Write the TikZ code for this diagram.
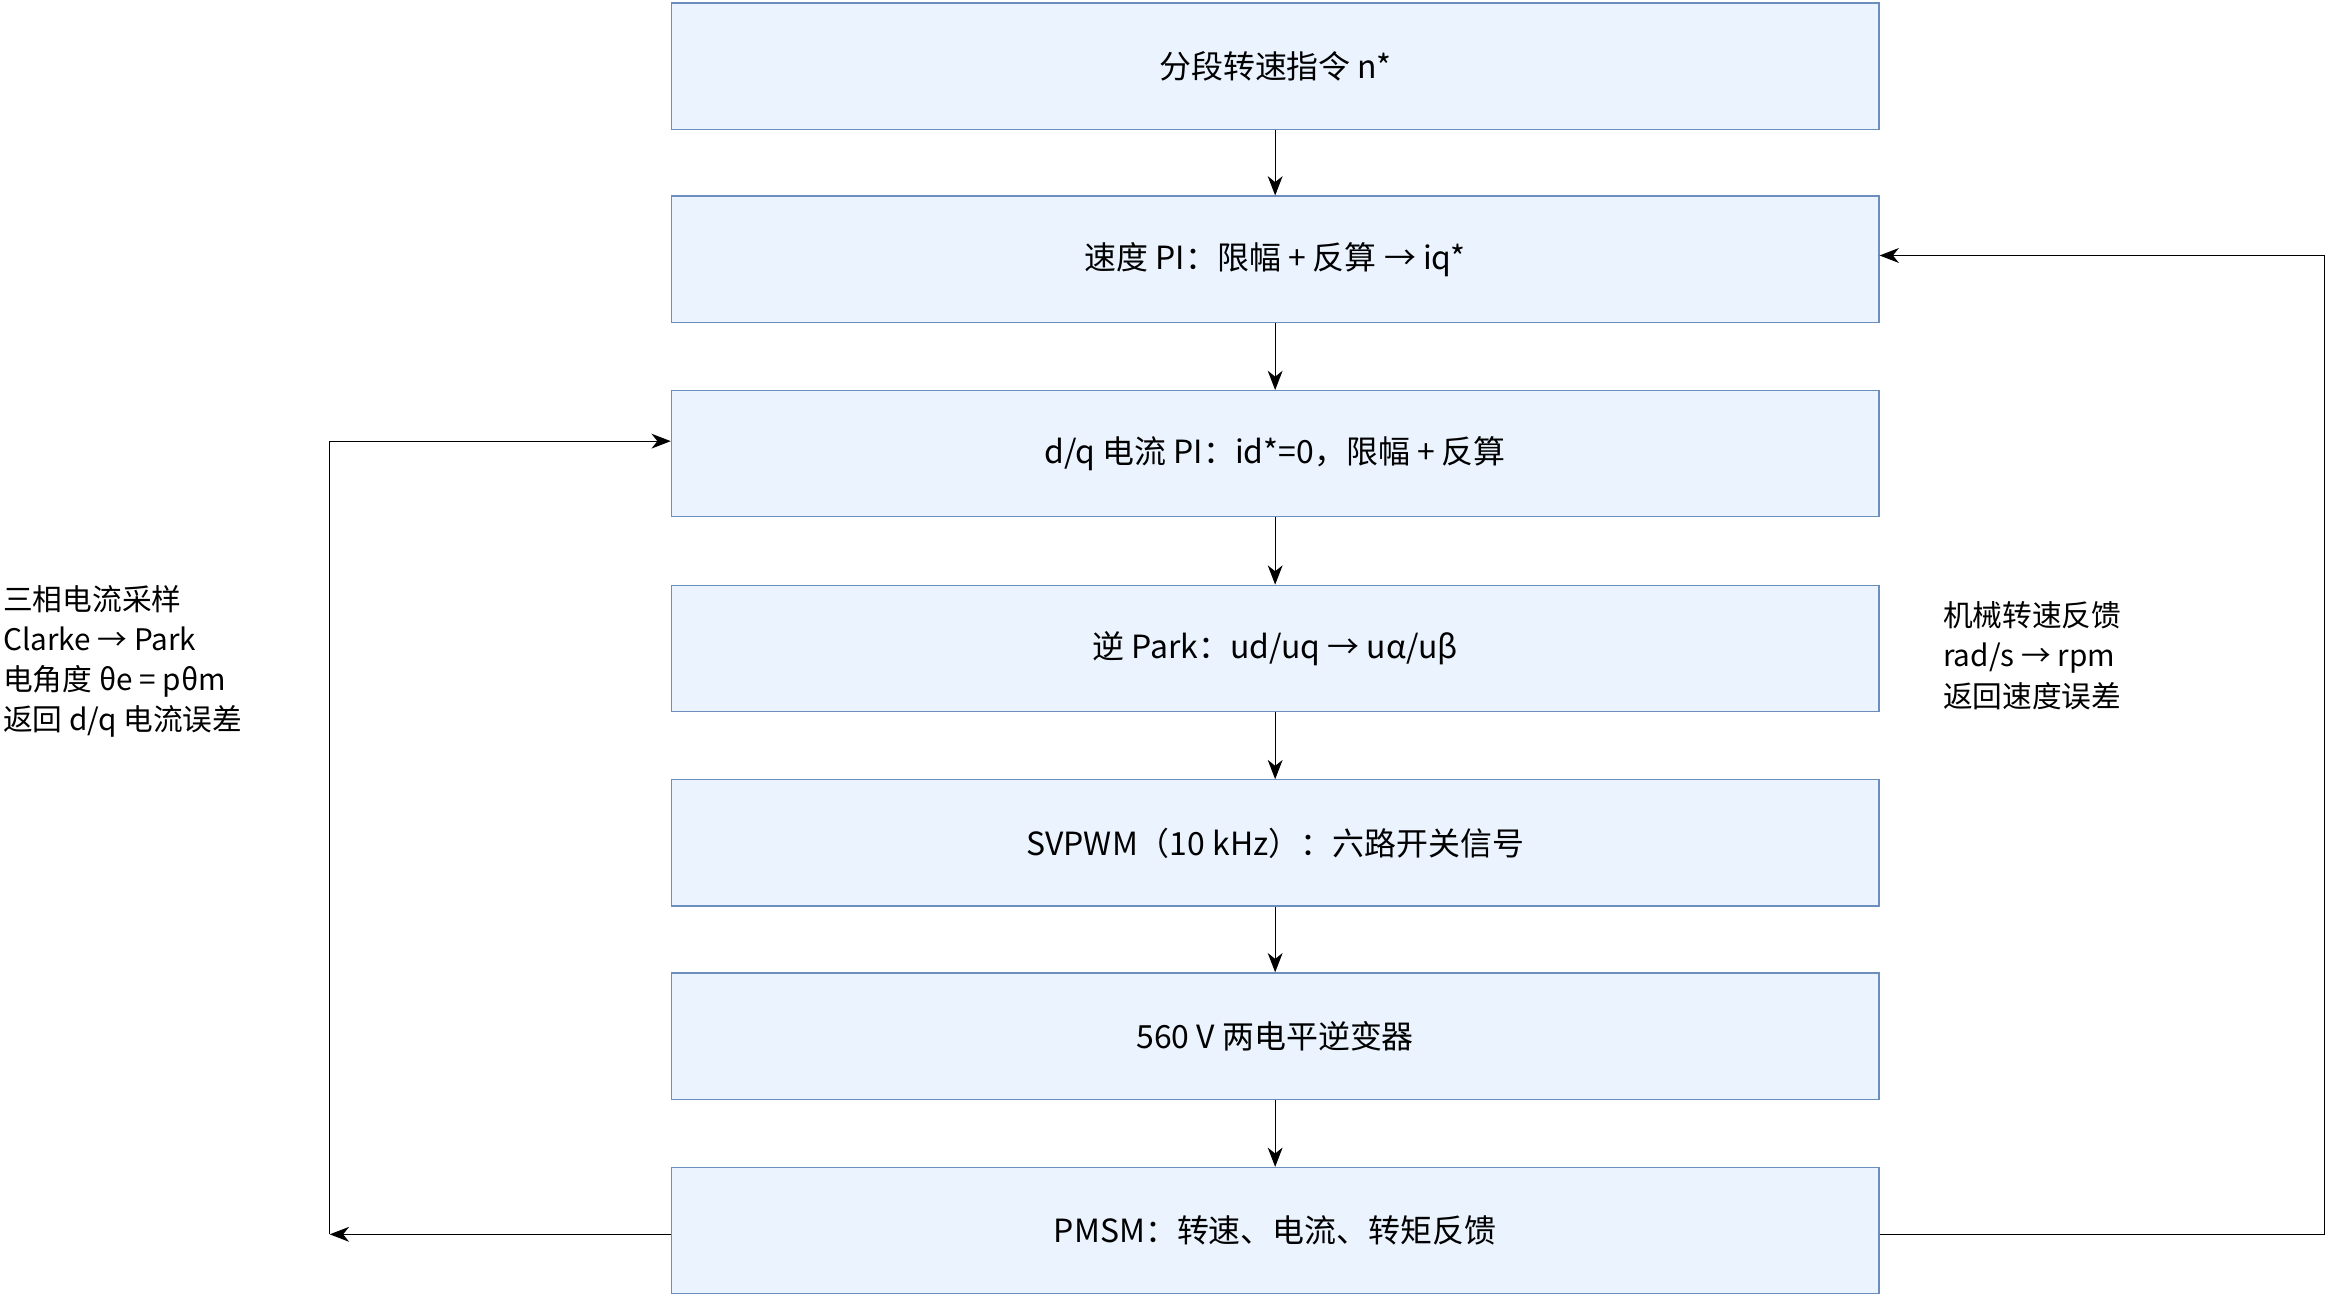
\documentclass[tikz,border=0pt]{standalone}
\usepackage{fontspec}
\setmainfont{Noto Sans CJK SC}
\usetikzlibrary{arrows.meta}
\definecolor{bfill}{HTML}{EAF3FE}
\definecolor{bdraw}{HTML}{6C8EBF}
\begin{document}
\begin{tikzpicture}[x=1pt,y=-1pt,
  box/.style={draw=bdraw,fill=bfill,line width=0.8pt,minimum width=813pt,minimum height=85pt,inner sep=0pt,font=\fontsize{21.5}{25}\selectfont},
  arr/.style={-{Stealth[length=13pt,width=10pt,inset=4pt]},line width=0.8pt},
  lbl/.style={align=left,anchor=north west,inner sep=0pt,font=\fontsize{20}{27}\selectfont}]
\useasboundingbox (0,0) rectangle (1568,873);
\node[box] (b1) at (858.5,44.5) {分段转速指令 n*};
\node[box] (b2) at (858.5,174.5) {速度 PI：限幅 + 反算 → iq*};
\node[box] (b3) at (858.5,305.5) {d/q 电流 PI：id*=0，限幅 + 反算};
\node[box] (b4) at (858.5,436.5) {逆 Park：ud/uq → uα/uβ};
\node[box] (b5) at (858.5,567.5) {SVPWM（10 kHz）：六路开关信号};
\node[box] (b6) at (858.5,697.5) {560 V 两电平逆变器};
\node[box] (b7) at (858.5,828.5) {PMSM：转速、电流、转矩反馈};
\foreach \a/\b in {b1/b2,b2/b3,b3/b4,b4/b5,b5/b6,b6/b7} \draw[arr] (\a) -- (\b);
\coordinate (lc) at (222,831);
\draw[arr] (b7.west|-lc) -- (lc);
\draw[arr] (lc) -- (222,297) -- (b3.west|-0,297);
\draw[arr] (b7.east|-lc) -- (1565,831) -- (1565,172) -- (b2.east|-0,172);
\node[lbl] (ll) at (2,394) {三相电流采样\\Clarke → Park\\电角度 θe = pθm\\返回 d/q 电流误差};
\node[lbl] (rl) at (1308,405) {机械转速反馈\\rad/s → rpm\\返回速度误差};
\end{tikzpicture}
\end{document}
